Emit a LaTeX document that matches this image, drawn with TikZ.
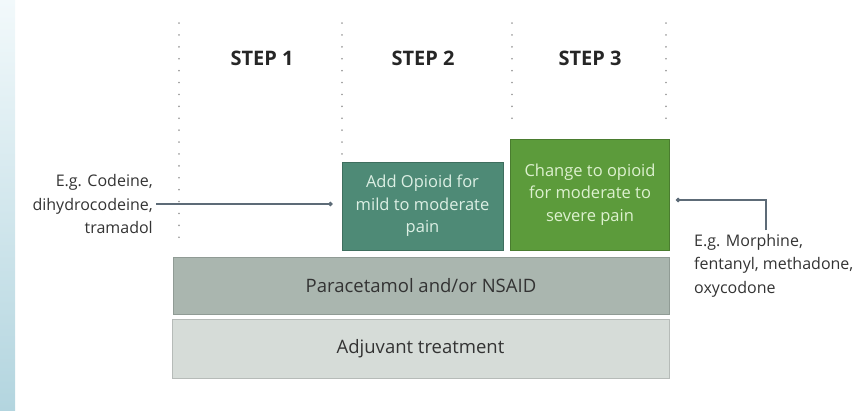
\documentclass[tikz,border=0pt]{standalone}
\usepackage{fontspec}
\setmainfont{Open Sans}
\usetikzlibrary{positioning,calc,arrows.meta}
\definecolor{tealbox}{HTML}{4E8A76}
\definecolor{tealtext}{HTML}{DCEFE4}
\definecolor{greenbox}{HTML}{5C9B3B}
\definecolor{greentext}{HTML}{DDF1CF}
\definecolor{parabar}{HTML}{AAB6AF}
\definecolor{adjbar}{HTML}{D6DCD8}
\definecolor{inktext}{HTML}{333333}
\definecolor{linkline}{HTML}{5D6B77}
\definecolor{striptop}{HTML}{F2F9FB}
\definecolor{stripbottom}{HTML}{B3D5DF}
\tikzset{px/.style={x=1pt, y=-1pt}}
\tikzset{steplabel/.style={font=\fontsize{20}{24}\selectfont\bfseries, text=black!85}}
\tikzset{stepsep/.style={draw=black!38, line width=1.7pt, line cap=round, dash pattern=on 0.1pt off 11.8pt}}
\tikzset{drugbox/.style={draw=#1!80!black, fill=#1, line width=0.6pt, align=center, inner sep=0pt, font=\fontsize{16.5}{22.5}\selectfont}}
\tikzset{basebar/.style={draw=#1!85!black, fill=#1, line width=0.8pt, inner sep=0pt, text=inktext, font=\fontsize{18.5}{21}\selectfont}}
\tikzset{sidenote/.style={inner sep=0pt, text=inktext, font=\fontsize{16}{23.5}\selectfont}}
\tikzset{link/.style={draw=linkline, line width=1.1pt, -{Circle[length=4.5pt]}}}

\begin{document}
\begin{tikzpicture}[px]
    \useasboundingbox (0,0) rectangle (853,410);
    % faint strip at the left edge
    \shade[top color=striptop, bottom color=stripbottom] (0,0) rectangle (15,410);

    % step separators
    \foreach \x/\yend in {179/246, 342/158, 512/130, 666/130}
        \draw[stepsep] (\x,23) -- (\x,\yend);
    \node[steplabel] (step1) at (262,58) {STEP 1};
    \node[steplabel] (step2) at (423,58) {STEP 2};
    \node[steplabel] (step3) at (590,58) {STEP 3};

    % the ladder
    \node[drugbox=tealbox, text=tealtext, minimum width=161pt, minimum height=88pt]
        (opioidmild) at (422.5,206) {Add Opioid for\\mild to moderate\\pain};
    \node[drugbox=greenbox, text=greentext, minimum width=159pt, minimum height=111pt]
        (opioidsevere) at (590,194.5) {Change to opioid\\for moderate to\\severe pain};
    \node[basebar=parabar, minimum width=496pt, minimum height=57pt]
        (paracetamol) at (421,285.5) {Paracetamol and/or NSAID};
    \node[basebar=adjbar, minimum width=497pt, minimum height=59pt]
        (adjuvant) at (420.5,348.5) {Adjuvant treatment};

    % examples
    \node[sidenote, align=right, anchor=east] (codeine) at (153,204)
        {E.g. Codeine,\\dihydrocodeine,\\tramadol};
    \node[sidenote, align=left, anchor=north west] (morphine) at (694,234)
        {E.g. Morphine,\\fentanyl, methadone,\\oxycodone};
    \coordinate (bend) at (766,200);
    \coordinate (drop) at (766,230);

    \draw[link, shorten <=3pt, shorten >=9pt] (codeine.east) -- (codeine.east -| opioidmild.west);
    \draw[link, shorten >=6pt] (drop) -- (bend) -- (bend -| opioidsevere.east);
\end{tikzpicture}
\end{document}
